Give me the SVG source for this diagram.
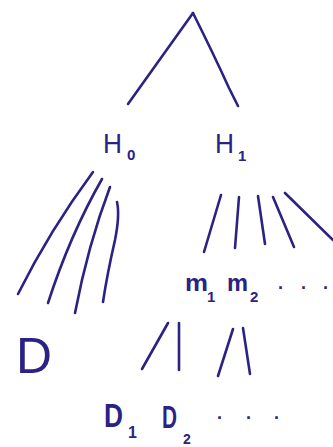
<svg xmlns="http://www.w3.org/2000/svg" width="333" height="447" viewBox="0 0 333 447">
<style>
.ln{fill:none;stroke:#2a2383;stroke-width:2.6;stroke-linecap:round;stroke-linejoin:round}
.t{fill:#2a2383;font-family:"Liberation Sans",Arial,sans-serif}
.b{font-weight:bold}
</style>
<rect width="333" height="447" fill="#ffffff"/>
<g id="connectors">
<path class="ln" d="M193 13 L128 104"/>
<path class="ln" d="M193 13 Q214 55 229 88 L238 106"/>
<path class="ln" d="M93 172 Q50 230 18 294"/>
<path class="ln" d="M102 179 Q70 235 48 303"/>
<path class="ln" d="M110 187 Q88 245 75 313"/>
<path class="ln" d="M117 202 Q120 215 115 240 Q107 275 103 302"/>
<path class="ln" d="M221 195 L204 252"/>
<path class="ln" d="M239 197 L235 248"/>
<path class="ln" d="M258 196 L265 244"/>
<path class="ln" d="M273 197 L294 247"/>
<path class="ln" d="M285 193 L333 240"/>
<path class="ln" d="M168 323 L142 369"/>
<path class="ln" d="M179 323 L179 370"/>
<path class="ln" d="M233 329 L218 376"/>
<path class="ln" d="M243 328 L250 374"/>
</g>
<g id="H0">
<text class="t" x="103" y="153" font-size="28" textLength="19" lengthAdjust="spacingAndGlyphs">H</text>
<text class="t b" x="127" y="160" font-size="15">0</text>
</g>
<g id="H1">
<text class="t" x="215" y="153" font-size="28" textLength="19" lengthAdjust="spacingAndGlyphs">H</text>
<text class="t b" x="238" y="161" font-size="15">1</text>
</g>
<g id="m">
<text class="t b" x="185" y="291" font-size="24" textLength="23" lengthAdjust="spacingAndGlyphs">m</text>
<text class="t b" x="207" y="302" font-size="15">1</text>
<text class="t b" x="227" y="291" font-size="24" textLength="21" lengthAdjust="spacingAndGlyphs">m</text>
<text class="t b" x="250" y="302" font-size="15">2</text>
<text class="t b" x="278 301 323" y="289" font-size="18">...</text>
</g>
<g id="D">
<text class="t" x="16" y="373" font-size="50" textLength="36" lengthAdjust="spacingAndGlyphs">D</text>
</g>
<g id="D12">
<text class="t b" x="104" y="427" font-size="34" textLength="19" lengthAdjust="spacingAndGlyphs">D</text>
<text class="t b" x="128" y="438" font-size="16">1</text>
<text class="t b" x="162" y="428" font-size="32" textLength="15" lengthAdjust="spacingAndGlyphs">D</text>
<text class="t b" x="183" y="444" font-size="14">2</text>
<text class="t b" x="217 246 274" y="419" font-size="18">...</text>
</g>
</svg>
